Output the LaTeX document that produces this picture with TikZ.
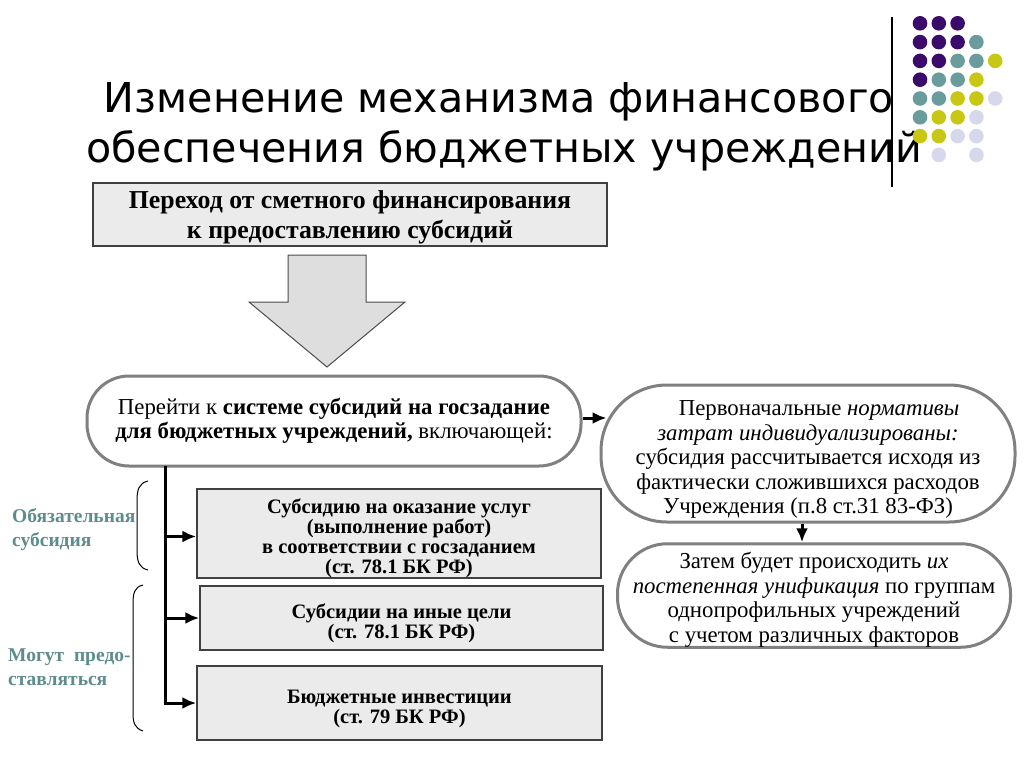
\documentclass[tikz,border=0pt]{standalone}
\usepackage{fontspec}
\setmainfont{Liberation Serif}
\newfontfamily\titlefont{DejaVu Sans}
\usetikzlibrary{positioning,arrows.meta}

\definecolor{dotpurple}{HTML}{3B0B6B}
\definecolor{dotteal}{HTML}{6A9C9E}
\definecolor{dotyellow}{HTML}{C8C814}
\definecolor{dotlilac}{HTML}{D8D8EC}
\definecolor{sideteal}{HTML}{5E8C8C}

\newcommand\lowstrut[1][1.2em]{\rule{0pt}{#1}}

\tikzset{
  greybox/.style={draw=black!75, line width=1.5pt, fill=black!8, align=center, inner sep=0pt,
    font=\fontsize{20.5}{19.8}\selectfont\bfseries},
  roundbox/.style={draw=black!50, line width=3pt, fill=white, align=center, inner sep=0pt,
    font=\fontsize{22.8}{24.5}\selectfont},
  conn/.style={-{Latex[length=14pt,width=12pt]}, line width=3pt},
  sidelabel/.style={text=sideteal, anchor=west, align=left, inner sep=0pt,
    font=\fontsize{19.5}{24}\selectfont\bfseries},
  headline/.style={font=\titlefont\fontsize{41.2}{50}\selectfont, anchor=base, inner sep=0pt},
}

\begin{document}
\begin{tikzpicture}[x=1pt,y=-1pt]
    \useasboundingbox (0,0) rectangle (1024,768);

    \node[headline] (title1) at (499,112) {Изменение механизма финансового};
    \node[headline] (title2) at (504,162) {обеспечения бюджетных учреждений};
    \draw[line width=1.2pt] (892,17) -- (892,187);
    \foreach \c/\r/\col in {0/0/dotpurple,1/0/dotpurple,2/0/dotpurple,
        0/1/dotpurple,1/1/dotpurple,2/1/dotpurple,3/1/dotteal,
        0/2/dotpurple,1/2/dotpurple,2/2/dotteal,3/2/dotteal,4/2/dotyellow,
        0/3/dotpurple,1/3/dotteal,2/3/dotteal,3/3/dotyellow,
        0/4/dotteal,1/4/dotteal,2/4/dotyellow,3/4/dotyellow,4/4/dotlilac,
        0/5/dotteal,1/5/dotyellow,2/5/dotyellow,3/5/dotlilac,
        0/6/dotyellow,1/6/dotyellow,2/6/dotlilac,3/6/dotlilac,
        1/7/dotlilac,3/7/dotlilac}
      \fill[\col] (920+18.8*\c,23.3+18.8*\r) circle (7.3);

    \node[greybox, minimum width=514, minimum height=63, font=\fontsize{25.8}{30}\selectfont\bfseries]
      (start) at (350,214.5) {\lowstrut[0.95em]Переход от сметного финансирования\\к предоставлению субсидий};
    \filldraw[draw=black!70, fill=black!13, line width=1pt]
      (288,255) -- (366,255) -- (366,302) -- (405,302) -- (327,367) -- (249,302) -- (288,302) -- cycle;

    \node[roundbox, minimum width=494, minimum height=90, rounded corners=42] (system) at (334,421)
      {Перейти к \textbf{системе субсидий на госзадание}\\\textbf{для бюджетных учреждений,} включающей:};
    \node[roundbox, minimum width=414, minimum height=137, rounded corners=66] (norms) at (808,453.5)
      {\lowstrut\hspace*{22pt}Первоначальные \textit{нормативы}\\\textit{затрат индивидуализированы:}\\
       субсидия рассчитывается исходя из\\фактически сложившихся расходов\\Учреждения (п.8 ст.31 83-ФЗ)};
    \node[roundbox, minimum width=393, minimum height=103, rounded corners=50] (unify) at (814,595.5)
      {\lowstrut[1.1em]Затем будет происходить \textit{их}\\\textit{постепенная унификация} по группам\\
       однопрофильных учреждений\\с учетом различных факторов};

    \node[greybox, minimum width=404, minimum height=89] (task) at (399,533.5)
      {\lowstrut Субсидию на оказание услуг\\(выполнение работ)\\в соответствии с госзаданием\\(ст. 78.1 БК РФ)};
    \node[greybox, minimum width=403, minimum height=64] (other) at (401.5,618)
      {\lowstrut Субсидии на иные цели\\(ст. 78.1 БК РФ)};
    \node[greybox, minimum width=405, minimum height=74] (invest) at (399.5,703)
      {\lowstrut Бюджетные инвестиции\\(ст. 79 БК РФ)};

    \draw[conn] ([yshift=3]system.east) -- ([xshift=7,yshift=3]system.east -| norms.west);
    \draw[conn] ([xshift=-6]norms.south) -- ([xshift=-6]norms.south |- unify.north);

    \coordinate (trunk) at (165,466);
    \draw[line width=3pt] (trunk) -- ([yshift=1.5]trunk |- invest.west);
    \draw[conn] ([yshift=-3]trunk |- task.west) -- ([yshift=-3]task.west);
    \draw[conn] (trunk |- other.west) -- (other.west);
    \draw[conn] ([xshift=-1.5]trunk |- invest.west) -- (invest.west);

    \draw[line width=1pt] (148,481) .. controls (139,483) and (137,490) .. (137,500) -- (137,551)
      .. controls (137,561) and (139,568) .. (148,570);
    \draw[line width=1pt] (143,585) .. controls (134,587) and (133,594) .. (133,604) -- (133,712)
      .. controls (133,722) and (134,728) .. (143,731);
    \node[sidelabel] (must) at (12,530) {Обязательная\\субсидия};
    \node[sidelabel] (may) at (8,667) {Могут\ \ предо-\\ставляться};
\end{tikzpicture}
\end{document}
